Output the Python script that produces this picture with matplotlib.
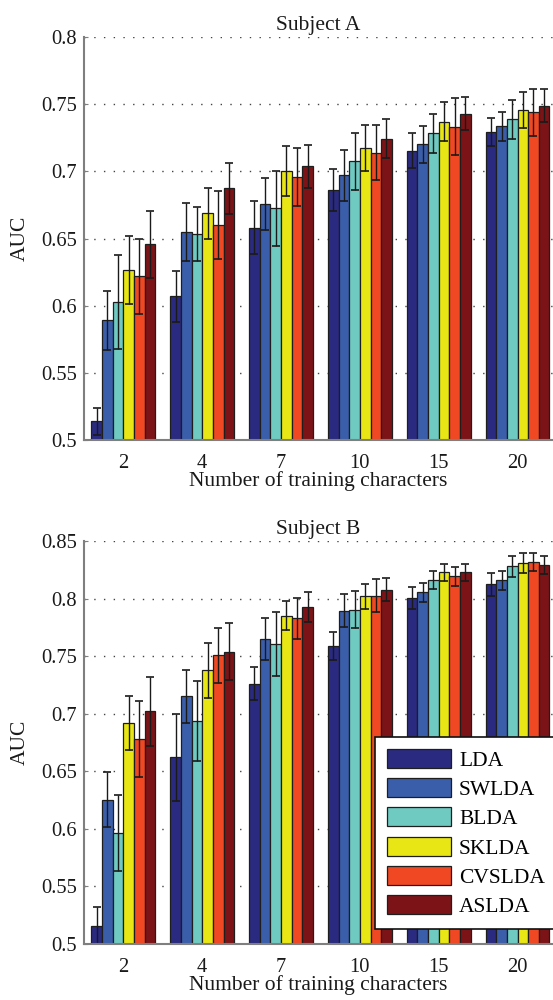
import matplotlib
matplotlib.use("Agg")
import matplotlib.pyplot as plt
import numpy as np

plt.rcParams['font.family'] = ['Liberation Serif', 'DejaVu Serif']

categories = ['2', '4', '7', '10', '15', '20']
methods = ['LDA', 'SWLDA', 'BLDA', 'SKLDA', 'CVSLDA', 'ASLDA']
colors = ['#2a2a80', '#3b5eab', '#6fcac2', '#e8e614', '#f04823', '#7c1417']

# Subject A: means and error (half-width)
a_mean = {
    'LDA':    [0.514, 0.607, 0.658, 0.686, 0.7155, 0.729],
    'SWLDA':  [0.589, 0.655, 0.6756, 0.697, 0.720, 0.7334],
    'BLDA':   [0.6027, 0.6535, 0.6724, 0.7074, 0.7282, 0.7386],
    'SKLDA':  [0.6265, 0.6687, 0.700, 0.7176, 0.737, 0.7455],
    'CVSLDA': [0.622, 0.660, 0.696, 0.714, 0.7332, 0.7438],
    'ASLDA':  [0.6458, 0.6873, 0.7036, 0.7244, 0.743, 0.749],
}
a_err = {
    'LDA':    [0.010, 0.019, 0.0196, 0.0157, 0.013, 0.0105],
    'SWLDA':  [0.022, 0.0215, 0.0195, 0.019, 0.014, 0.011],
    'BLDA':   [0.035, 0.020, 0.0278, 0.0213, 0.0147, 0.0146],
    'SKLDA':  [0.025, 0.019, 0.0185, 0.017, 0.0146, 0.0134],
    'CVSLDA': [0.028, 0.025, 0.0215, 0.0207, 0.0213, 0.0178],
    'ASLDA':  [0.025, 0.019, 0.016, 0.0146, 0.012, 0.012],
}

# Subject B
b_mean = {
    'LDA':    [0.5157, 0.662, 0.7262, 0.759, 0.8004, 0.8123],
    'SWLDA':  [0.6253, 0.7152, 0.7647, 0.7894, 0.8054, 0.8158],
    'BLDA':   [0.5962, 0.6937, 0.7604, 0.7902, 0.816, 0.828],
    'SKLDA':  [0.6923, 0.7378, 0.785, 0.8019, 0.8227, 0.8306],
    'CVSLDA': [0.6783, 0.7506, 0.7828, 0.8024, 0.8193, 0.8317],
    'ASLDA':  [0.702, 0.754, 0.7926, 0.8076, 0.8227, 0.8294],
}
b_err = {
    'LDA':    [0.016, 0.038, 0.014, 0.012, 0.0093, 0.010],
    'SWLDA':  [0.024, 0.023, 0.018, 0.0143, 0.008, 0.0085],
    'BLDA':   [0.033, 0.035, 0.028, 0.016, 0.008, 0.0093],
    'SKLDA':  [0.0235, 0.024, 0.0125, 0.011, 0.0076, 0.0088],
    'CVSLDA': [0.033, 0.024, 0.018, 0.0143, 0.0085, 0.008],
    'ASLDA':  [0.030, 0.025, 0.013, 0.010, 0.0077, 0.0078],
}

W, H = 553, 1000
fig = plt.figure(figsize=(W / 100, H / 100), dpi=100)

def ax_rect(left, top, right, bottom):
    return [left / W, 1 - bottom / H, (right - left) / W, (bottom - top) / H]

ax1 = fig.add_axes(ax_rect(84, 37, 553, 440))
ax2 = fig.add_axes(ax_rect(84, 541, 553, 944))

spine_col = '#7f7f7f'
txt_col = '#1a1a1a'
bw = 0.135
x = np.arange(1, len(categories) + 1)

def draw(ax, means, errs, ylim, yticks, yticklabels, title):
    handles = []
    for i, m in enumerate(methods):
        off = (i - 2.5) * bw
        b = ax.bar(x + off, means[m], width=bw, color=colors[i],
                   edgecolor='#1e1e1e', linewidth=0.9, zorder=3, label=m)
        ax.errorbar(x + off, means[m], yerr=errs[m], fmt='none',
                    ecolor='#1a1a1a', elinewidth=1.0, capsize=2.8,
                    capthick=1.2, zorder=4)
        handles.append(b)
    ax.set_xlim(0.5, 6.45)
    ax.set_ylim(*ylim)
    ax.set_yticks(yticks)
    ax.set_yticklabels(yticklabels)
    ax.set_xticks(x)
    ax.set_xticklabels(categories)
    ax.tick_params(direction='in', length=3, width=0.8, colors=spine_col,
                   labelcolor=txt_col, labelsize=14.8, pad=5)
    ax.tick_params(axis='x', pad=10)
    for s in ['top', 'right']:
        ax.spines[s].set_visible(False)
    for s in ['left', 'bottom']:
        ax.spines[s].set_color(spine_col)
        ax.spines[s].set_linewidth(1.5)
        ax.spines[s].set_zorder(5)
    ax.yaxis.grid(True, linestyle=(0, (1, 6)), color='#444444', linewidth=1.0)
    ax.set_axisbelow(True)
    ax.set_ylabel('AUC', fontsize=15.5, color=txt_col, labelpad=8)
    ax.set_xlabel('Number of training characters', fontsize=15.5,
                  color=txt_col, labelpad=-1)
    ax.set_title(title, fontsize=15.5, color=txt_col, pad=5)
    return handles

draw(ax1, a_mean, a_err, (0.5, 0.8),
     [0.5, 0.55, 0.6, 0.65, 0.7, 0.75, 0.8],
     ['0.5', '0.55', '0.6', '0.65', '0.7', '0.75', '0.8'], 'Subject A')
handles = draw(ax2, b_mean, b_err, (0.5, 0.85),
               [0.5, 0.55, 0.6, 0.65, 0.7, 0.75, 0.8, 0.85],
               ['0.5', '0.55', '0.6', '0.65', '0.7', '0.75', '0.8', '0.85'],
               'Subject B')

leg = ax2.legend(handles, methods, loc='lower left',
                 bbox_to_anchor=(375 / W, 1 - 929 / H), bbox_transform=fig.transFigure,
                 fontsize=15.5, frameon=True, fancybox=False, framealpha=1,
                 edgecolor='#111111', handlelength=3.0, handleheight=1.0,
                 labelspacing=0.34, handletextpad=0.35, borderpad=0.55,
                 borderaxespad=0)
leg.get_frame().set_linewidth(1.2)
leg.set_zorder(10)

fig.savefig('out.png', dpi=100)
